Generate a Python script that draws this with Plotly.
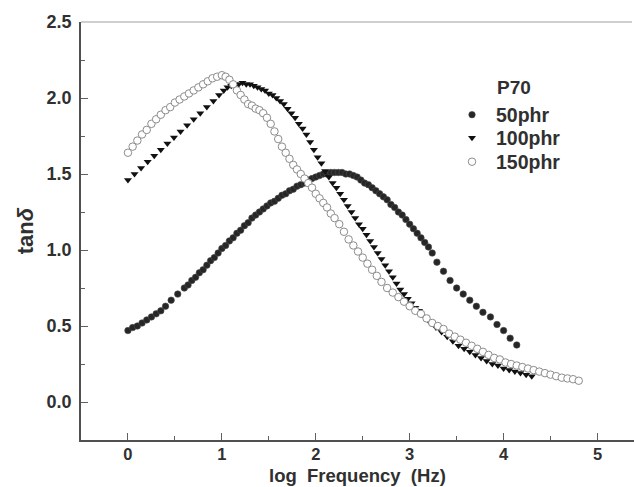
import plotly.graph_objects as go

# ---- data ----
x_50phr = [0.00, 0.05, 0.10, 0.15, 0.20, 0.25, 0.30, 0.35, 0.40, 0.46, 0.53,
           0.60, 0.64, 0.68, 0.72, 0.76, 0.80, 0.84, 0.88, 0.92, 0.96, 1.00,
           1.04, 1.08, 1.12, 1.16, 1.20, 1.24, 1.28, 1.32, 1.36, 1.40, 1.44,
           1.48, 1.52, 1.56, 1.60, 1.64, 1.68, 1.72, 1.76, 1.80, 1.84, 1.88,
           1.92, 1.96, 2.00, 2.04, 2.08, 2.12, 2.16, 2.20, 2.24, 2.28, 2.32,
           2.36, 2.40, 2.44, 2.48, 2.52, 2.56, 2.60, 2.64, 2.68, 2.72, 2.76,
           2.80, 2.84, 2.88, 2.92, 2.96, 3.00, 3.04, 3.08, 3.12, 3.16, 3.20,
           3.24, 3.29, 3.36, 3.43, 3.50, 3.57, 3.64, 3.71, 3.78, 3.86, 3.93,
           4.00, 4.07, 4.14]
y_50phr = [0.47, 0.49, 0.50, 0.52, 0.54, 0.56, 0.58, 0.60, 0.63, 0.67, 0.71,
           0.75, 0.77, 0.80, 0.82, 0.85, 0.87, 0.90, 0.93, 0.95, 0.98, 1.01,
           1.03, 1.06, 1.08, 1.11, 1.13, 1.16, 1.18, 1.21, 1.23, 1.25, 1.27,
           1.29, 1.31, 1.32, 1.34, 1.36, 1.37, 1.39, 1.40, 1.42, 1.43, 1.44,
           1.46, 1.47, 1.48, 1.49, 1.50, 1.50, 1.51, 1.51, 1.51, 1.51, 1.50,
           1.50, 1.49, 1.48, 1.46, 1.44, 1.43, 1.41, 1.39, 1.37, 1.35, 1.33,
           1.30, 1.28, 1.25, 1.23, 1.20, 1.17, 1.14, 1.11, 1.08, 1.05, 1.02,
           0.98, 0.92, 0.86, 0.80, 0.75, 0.71, 0.67, 0.63, 0.59, 0.56, 0.51,
           0.47, 0.42, 0.375]

x_100phr = [0.00, 0.07, 0.14, 0.21, 0.28, 0.35, 0.42, 0.49, 0.56, 0.63, 0.70,
            0.77, 0.84, 0.91, 0.97, 1.02, 1.06, 1.10, 1.14, 1.18, 1.22, 1.26,
            1.30, 1.34, 1.38, 1.42, 1.46, 1.50, 1.54, 1.58, 1.62, 1.66, 1.70,
            1.74, 1.78, 1.82, 1.86, 1.90, 1.94, 1.98, 2.02, 2.06, 2.10, 2.14,
            2.18, 2.22, 2.26, 2.30, 2.34, 2.38, 2.42, 2.46, 2.50, 2.54, 2.58,
            2.62, 2.66, 2.70, 2.74, 2.78, 2.82, 2.86, 2.90, 2.94, 2.98, 3.02,
            3.06, 3.10, 3.16, 3.22, 3.28, 3.34, 3.40, 3.46, 3.52, 3.58, 3.64,
            3.70, 3.76, 3.82, 3.88, 3.94, 4.00, 4.06, 4.12, 4.18, 4.24, 4.30]
y_100phr = [1.46, 1.50, 1.54, 1.58, 1.62, 1.66, 1.70, 1.74, 1.78, 1.82, 1.86,
            1.90, 1.94, 1.98, 2.02, 2.05, 2.07, 2.08, 2.09, 2.09, 2.10, 2.09,
            2.09, 2.08, 2.07, 2.06, 2.05, 2.03, 2.02, 2.00, 1.98, 1.96, 1.93,
            1.90, 1.87, 1.83, 1.80, 1.76, 1.71, 1.66, 1.61, 1.57, 1.52, 1.48,
            1.44, 1.41, 1.37, 1.33, 1.29, 1.25, 1.21, 1.17, 1.14, 1.10, 1.06,
            1.02, 0.98, 0.94, 0.90, 0.86, 0.82, 0.78, 0.74, 0.71, 0.68, 0.65,
            0.62, 0.60, 0.56, 0.52, 0.49, 0.46, 0.43, 0.40, 0.37, 0.35, 0.33,
            0.31, 0.29, 0.27, 0.25, 0.24, 0.22, 0.21, 0.20, 0.19, 0.18, 0.17]

x_150phr = [0.00, 0.05, 0.10, 0.15, 0.20, 0.25, 0.30, 0.35, 0.40, 0.45, 0.50,
            0.55, 0.60, 0.65, 0.70, 0.75, 0.80, 0.85, 0.90, 0.95, 1.00, 1.04,
            1.08, 1.12, 1.16, 1.20, 1.24, 1.28, 1.32, 1.36, 1.40, 1.44, 1.48,
            1.52, 1.56, 1.60, 1.64, 1.68, 1.72, 1.76, 1.80, 1.84, 1.88, 1.92,
            1.96, 2.00, 2.04, 2.08, 2.12, 2.16, 2.20, 2.25, 2.30, 2.35, 2.40,
            2.45, 2.50, 2.55, 2.60, 2.65, 2.70, 2.76, 2.82, 2.88, 2.94, 3.00,
            3.06, 3.12, 3.18, 3.24, 3.30, 3.36, 3.42, 3.48, 3.54, 3.60, 3.66,
            3.72, 3.78, 3.84, 3.90, 3.96, 4.02, 4.08, 4.14, 4.20, 4.26, 4.32,
            4.38, 4.44, 4.50, 4.56, 4.62, 4.68, 4.74, 4.80]
y_150phr = [1.64, 1.68, 1.72, 1.76, 1.79, 1.83, 1.86, 1.89, 1.92, 1.94, 1.97,
            1.99, 2.01, 2.03, 2.05, 2.07, 2.09, 2.11, 2.13, 2.14, 2.15, 2.14,
            2.12, 2.09, 2.05, 2.02, 1.99, 1.96, 1.95, 1.93, 1.92, 1.90, 1.87,
            1.83, 1.78, 1.73, 1.68, 1.64, 1.60, 1.56, 1.53, 1.50, 1.47, 1.44,
            1.41, 1.37, 1.34, 1.31, 1.28, 1.24, 1.21, 1.17, 1.12, 1.07, 1.03,
            0.99, 0.95, 0.91, 0.87, 0.83, 0.79, 0.75, 0.72, 0.69, 0.66, 0.63,
            0.60, 0.58, 0.55, 0.52, 0.50, 0.48, 0.45, 0.43, 0.41, 0.39, 0.37,
            0.35, 0.33, 0.31, 0.29, 0.28, 0.26, 0.25, 0.24, 0.23, 0.22, 0.21,
            0.20, 0.19, 0.18, 0.17, 0.16, 0.155, 0.15, 0.14]

series_names = ["50phr", "100phr", "150phr"]
legend_title = "P70"
x_title = "log  Frequency  (Hz)"
y_title = "tan<i>δ</i>"
x_ticks = [0, 1, 2, 3, 4, 5]
y_ticks = [0.0, 0.5, 1.0, 1.5, 2.0, 2.5]

W, H = 634, 487
ML, MR, MT, MB = 81, 0, 22, 47
PW, PH = W - ML - MR, H - MT - MB
FONT = "Liberation Sans, Arial, sans-serif"
TXT = "#303030"

fig = go.Figure()
fig.add_trace(go.Scatter(
    x=x_50phr, y=y_50phr, mode="markers", name=series_names[0], legend="legend",
    marker=dict(symbol="circle", size=6.5, color="#262626",
                line=dict(color="#4a4a4a", width=0.6))))
fig.add_trace(go.Scatter(
    x=x_100phr, y=y_100phr, mode="markers", name=series_names[1], legend="legend2",
    marker=dict(symbol="triangle-down", size=7, color="#111111",
                line=dict(width=0))))
fig.add_trace(go.Scatter(
    x=x_150phr, y=y_150phr, mode="markers", name=series_names[2], legend="legend3",
    marker=dict(symbol="circle", size=7.5, color="white",
                line=dict(color="#8c8c8c", width=1))))

axis_common = dict(
    showgrid=False, zeroline=False, showline=True, linecolor="#505050",
    linewidth=1.6, ticks="inside", tickcolor="#606060", tickwidth=1.4,
    ticklen=7, automargin=False, mirror=False,
)

fig.update_xaxes(
    **axis_common, range=[-0.5, (W - MR - 128) / 93.9], tickvals=x_ticks,
    ticktext=[str(v) for v in x_ticks], ticklabelstandoff=-2,
    tickfont=dict(family=FONT, size=16.5, color=TXT, weight="bold"),
    minor=dict(ticks="inside", ticklen=4, tickcolor="#606060", tickwidth=1.2, dtick=0.5),
)
fig.update_yaxes(
    **axis_common, range=[-0.25, 2.5], tickvals=y_ticks,
    ticktext=[f"{v:.1f}" for v in y_ticks], ticklabelstandoff=4,
    tickfont=dict(family=FONT, size=18, color=TXT, weight="bold"),
    minor=dict(ticks="inside", ticklen=4, tickcolor="#606060", tickwidth=1.2, dtick=0.25),
    title=dict(text=y_title, standoff=7,
               font=dict(family=FONT, size=22, color=TXT, weight="bold")),
)

# x-axis title as a paper-anchored annotation, centred under the plot area
fig.add_annotation(x=0.5, y=-(475 - (H - MB)) / PH, xref="paper", yref="paper",
                   text=x_title, showarrow=False, xanchor="center", yanchor="middle",
                   borderpad=0,
                   font=dict(family=FONT, size=18.5, color=TXT, weight="bold"))

fig.add_annotation(x=(495 - 128) / 93.9, y=(402 - 87) / 152, xref="x", yref="y",
                   text=legend_title, showarrow=False, xanchor="left", yanchor="middle",
                   font=dict(family=FONT, size=19, color=TXT, weight="bold"))

# light top frame line
fig.add_shape(type="line", xref="paper", yref="paper", x0=0, x1=1, y0=1, y1=1,
              line=dict(color="#a0a0a0", width=1.2))
# keep the cropped right edge clean (no frame on that side in the reference)
fig.add_shape(type="line", xref="paper", yref="paper", x0=1, x1=1, y0=0.004, y1=1.06,
              layer="above", line=dict(color="white", width=4))

legend_rows = [115, 138, 162]
legend_style = dict(xanchor="left", yanchor="middle", bgcolor="rgba(0,0,0,0)",
                    itemwidth=38, borderwidth=0,
                    font=dict(family=FONT, size=19.5, color=TXT, weight="bold"))


def legend_at(row_y):
    return dict(x=(448 - ML) / PW, y=1 - (row_y - MT) / PH, **legend_style)


fig.update_layout(
    width=W, height=H,
    margin=dict(l=ML, r=MR, t=MT, b=MB, autoexpand=False),
    paper_bgcolor="white", plot_bgcolor="white",
    showlegend=True,
    legend=legend_at(legend_rows[0]),
    legend2=legend_at(legend_rows[1]),
    legend3=legend_at(legend_rows[2]),
)

fig.write_html("out.html", config={"displayModeBar": False},
               post_script="document.body.style.margin='0';document.body.style.overflow='hidden';")
